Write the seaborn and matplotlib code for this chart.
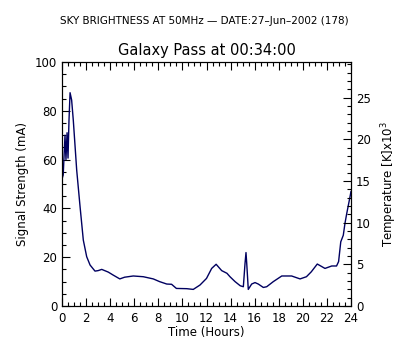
import matplotlib
matplotlib.use("Agg")
import matplotlib.pyplot as plt
from matplotlib.ticker import MultipleLocator
import seaborn as sns
import pandas as pd

hours = [0.0, 0.1, 0.25, 0.33, 0.42, 0.5, 0.58, 0.67, 0.8, 0.94, 1.22, 1.5, 1.77, 2.05,
         2.33, 2.74, 3.0, 3.3, 3.84, 4.24, 4.8, 5.2, 5.92, 6.75, 7.58, 8.1, 8.7, 9.1,
         9.5, 10.36, 10.9, 11.46, 12.0, 12.43, 12.8, 13.26, 13.7, 13.95, 14.37, 14.8,
         15.06, 15.2, 15.28, 15.34, 15.47, 15.75, 16.03, 16.3, 16.72, 17.0, 17.55,
         18.25, 19.07, 19.77, 20.3, 20.7, 21.2, 21.84, 22.4, 22.8, 22.97, 23.15,
         23.36, 23.5, 23.65, 23.92, 24.0]
signal = [52.0, 53.7, 70.0, 60.0, 71.0, 60.6, 76.0, 87.4, 84.4, 76.0, 55.7, 40.7, 27.0,
          20.2, 16.8, 14.3, 14.5, 15.0, 13.9, 12.7, 11.1, 11.8, 12.3, 12.0, 11.1, 10.0,
          9.0, 8.9, 7.2, 7.1, 6.8, 8.6, 11.3, 15.4, 17.1, 14.5, 13.4, 12.0, 10.0, 8.3,
          7.9, 17.5, 21.9, 17.5, 6.8, 9.0, 9.6, 9.0, 7.6, 7.9, 10.0, 12.3, 12.3, 11.1,
          12.0, 14.0, 17.2, 15.4, 16.4, 16.4, 18.2, 26.3, 29.0, 33.9, 38.0, 44.8, 47.0]

df = pd.DataFrame({"Time": hours, "Signal": signal})

sns.set_style("white")
plt.rcParams['font.family'] = ['DejaVu Sans']
plt.rcParams.update({"text.color": "black", "axes.labelcolor": "black",
                     "xtick.color": "black", "ytick.color": "black"})

fig = plt.figure(figsize=(4, 3.5), dpi=100)
ax = fig.add_axes([0.155, 0.1257, 0.7225, 0.6973])
sns.lineplot(data=df, x="Time", y="Signal", ax=ax, color="#000060", linewidth=1.0)

ax.set_xlim(0, 24)
ax.set_ylim(0, 100)
ax.xaxis.set_major_locator(MultipleLocator(2))
ax.xaxis.set_minor_locator(MultipleLocator(0.5))
ax.yaxis.set_major_locator(MultipleLocator(20))
ax.yaxis.set_minor_locator(MultipleLocator(5))
ax.tick_params(axis="x", which="both", direction="in", top=True, bottom=True,
               labelsize=8.5, pad=4)
ax.tick_params(axis="y", which="both", direction="in", left=True, right=False,
               labelsize=8.5)
ax.tick_params(which="major", length=6, width=0.8, color="black")
ax.tick_params(which="minor", length=3, width=0.8, color="black")
for s in ax.spines.values():
    s.set_color("black")
    s.set_linewidth(0.8)

ax.set_xlabel("Time (Hours)", fontsize=8.5, labelpad=1, color="black")
ax.set_ylabel("Signal Strength (mA)", fontsize=8.5, labelpad=4, color="black")
ax.set_title("Galaxy Pass at 00:34:00", fontsize=10.5, pad=5, color="black")

ax2 = ax.twinx()
ax2.set_ylim(0, 29.3)
ax2.yaxis.set_major_locator(MultipleLocator(5))
ax2.yaxis.set_minor_locator(MultipleLocator(1))
ax2.tick_params(axis="y", which="both", direction="in", labelsize=8.5)
ax2.tick_params(which="major", length=6, width=0.8, color="black")
ax2.tick_params(which="minor", length=3, width=0.8, color="black")
ax2.set_ylabel("Temperature [K]x10$^3$", fontsize=8.5, labelpad=6, color="black")
for s in ax2.spines.values():
    s.set_color("black")
    s.set_linewidth(0.8)

fig.text(0.51, 0.94, "SKY BRIGHTNESS AT 50MHz \u2014 DATE:27\u2013Jun\u20132002 (178)",
         ha="center", va="center", fontsize=7.5, color="black")

fig.savefig("out.png", dpi=100, facecolor="white")
